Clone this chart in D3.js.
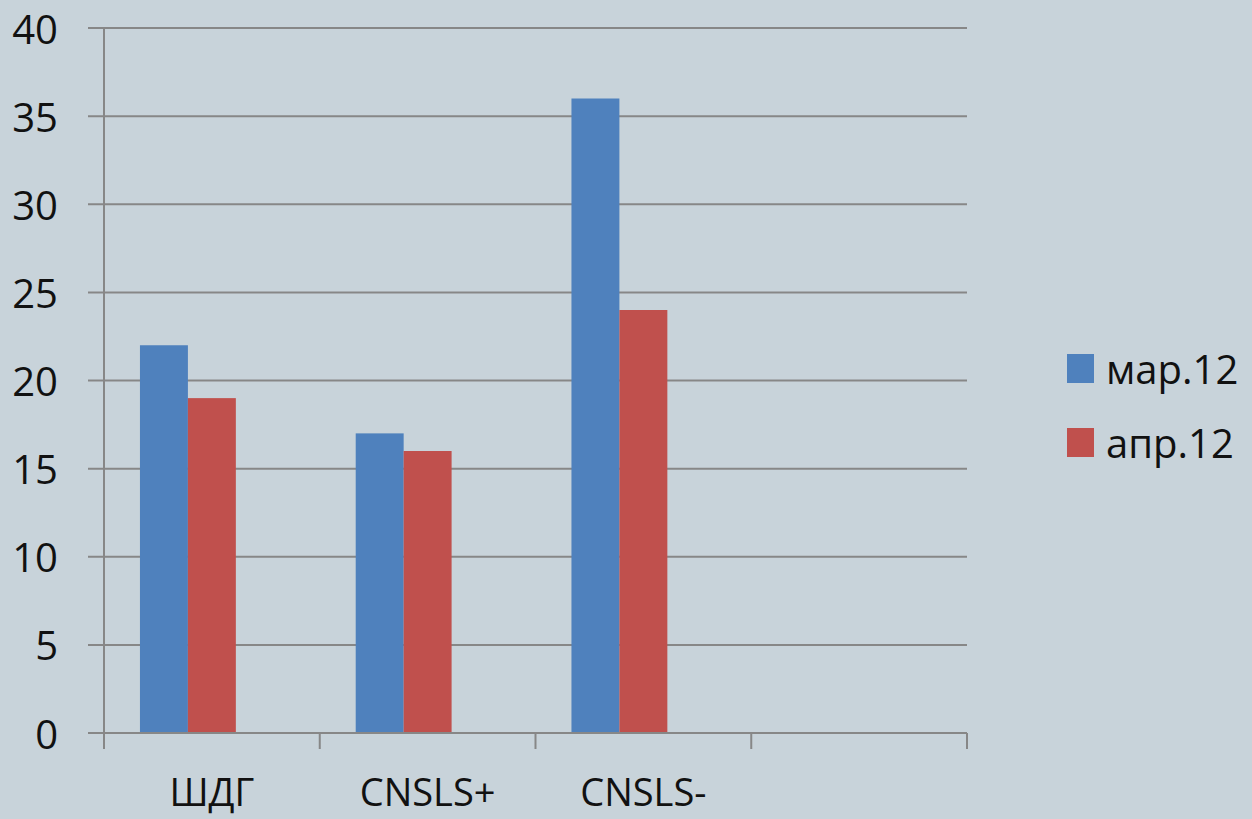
<!DOCTYPE html>
<html>
<head>
<meta charset="utf-8">
<script src="https://cdn.jsdelivr.net/npm/d3@7"></script>
<style>
  html, body { margin: 0; padding: 0; background: #c8d3da; }
  svg { display: block; }
</style>
</head>
<body>
<div id="chart"></div>
<script>
// categories (last slot is empty in the original chart)
const categories = ['ШДГ', 'CNSLS+', 'CNSLS-', '']
const seriesNames = ['мар.12', 'апр.12']
const seriesColors = ['#4f81bd', '#c0504d']
const marValues = [22, 17, 36, null]
const aprValues = [19, 16, 24, null]
const yTicks = [0, 5, 10, 15, 20, 25, 30, 35, 40]

const width = 1252
const height = 819
const plot = { left: 104, right: 967, top: 28, bottom: 733 }

const svg = d3.select('#chart')
  .append('svg')
  .attr('width', width)
  .attr('height', height)
  .style('font-family', '"Open Sans", "Noto Sans", sans-serif')

svg.append('rect')
  .attr('width', width).attr('height', height)
  .attr('fill', '#c8d3da')

const y = d3.scaleLinear()
  .domain([0, 40])
  .range([plot.bottom, plot.top])

// Excel style: 3 series slots per category (third is empty), gap width 150%
const x0 = d3.scaleBand()
  .domain(categories)
  .range([plot.left, plot.right])
  .paddingInner(1 / 3)
  .paddingOuter(1 / 6)

const x1 = d3.scaleBand()
  .domain([0, 1, 2])
  .range([0, x0.bandwidth()])

const gridColor = '#878787'

// Gridlines + y tick labels
yTicks.forEach(t => {
  svg.append('line')
    .attr('x1', plot.left - 16).attr('x2', plot.right)
    .attr('y1', y(t)).attr('y2', y(t))
    .attr('stroke', gridColor).attr('stroke-width', 2)
  svg.append('text')
    .attr('x', 58).attr('y', y(t))
    .attr('text-anchor', 'end')
    .attr('dominant-baseline', 'central')
    .attr('font-size', '40px').attr('fill', '#111')
    .text(t)
})

// Y axis line
svg.append('line')
  .attr('x1', plot.left).attr('x2', plot.left)
  .attr('y1', plot.top).attr('y2', plot.bottom + 16)
  .attr('stroke', gridColor).attr('stroke-width', 2)

// Category boundary tick marks
d3.range(categories.length + 1).forEach(i => {
  const tx = plot.left + i * x0.step()
  svg.append('line')
    .attr('x1', tx).attr('x2', tx)
    .attr('y1', plot.bottom).attr('y2', plot.bottom + 16)
    .attr('stroke', gridColor).attr('stroke-width', 2)
})

// Bars
const seriesValues = [marValues, aprValues]
seriesValues.forEach((vals, si) => {
  categories.forEach((c, ci) => {
    const v = vals[ci]
    if (v == null) return
    svg.append('rect')
      .attr('x', x0(c) + x1(si))
      .attr('y', y(v))
      .attr('width', x1.bandwidth())
      .attr('height', y(0) - y(v))
      .attr('fill', seriesColors[si])
  })
})

// X axis baseline drawn over bars
svg.append('line')
  .attr('x1', plot.left - 16).attr('x2', plot.right)
  .attr('y1', plot.bottom).attr('y2', plot.bottom)
  .attr('stroke', gridColor).attr('stroke-width', 2)

// Category labels
categories.forEach(c => {
  if (!c) return
  svg.append('text')
    .attr('x', x0(c) + x0.bandwidth() / 2)
    .attr('y', 806)
    .attr('text-anchor', 'middle')
    .attr('font-size', '38px').attr('fill', '#111')
    .text(c)
})

// Legend
seriesNames.forEach((name, i) => {
  const ly = 368 + i * 74
  svg.append('rect')
    .attr('x', 1067).attr('y', ly - 14)
    .attr('width', 27).attr('height', 29)
    .attr('fill', seriesColors[i])
  svg.append('text')
    .attr('x', 1106).attr('y', ly)
    .attr('dominant-baseline', 'central')
    .attr('font-size', '40px').attr('fill', '#111')
    .text(name)
})
</script>
</body>
</html>
